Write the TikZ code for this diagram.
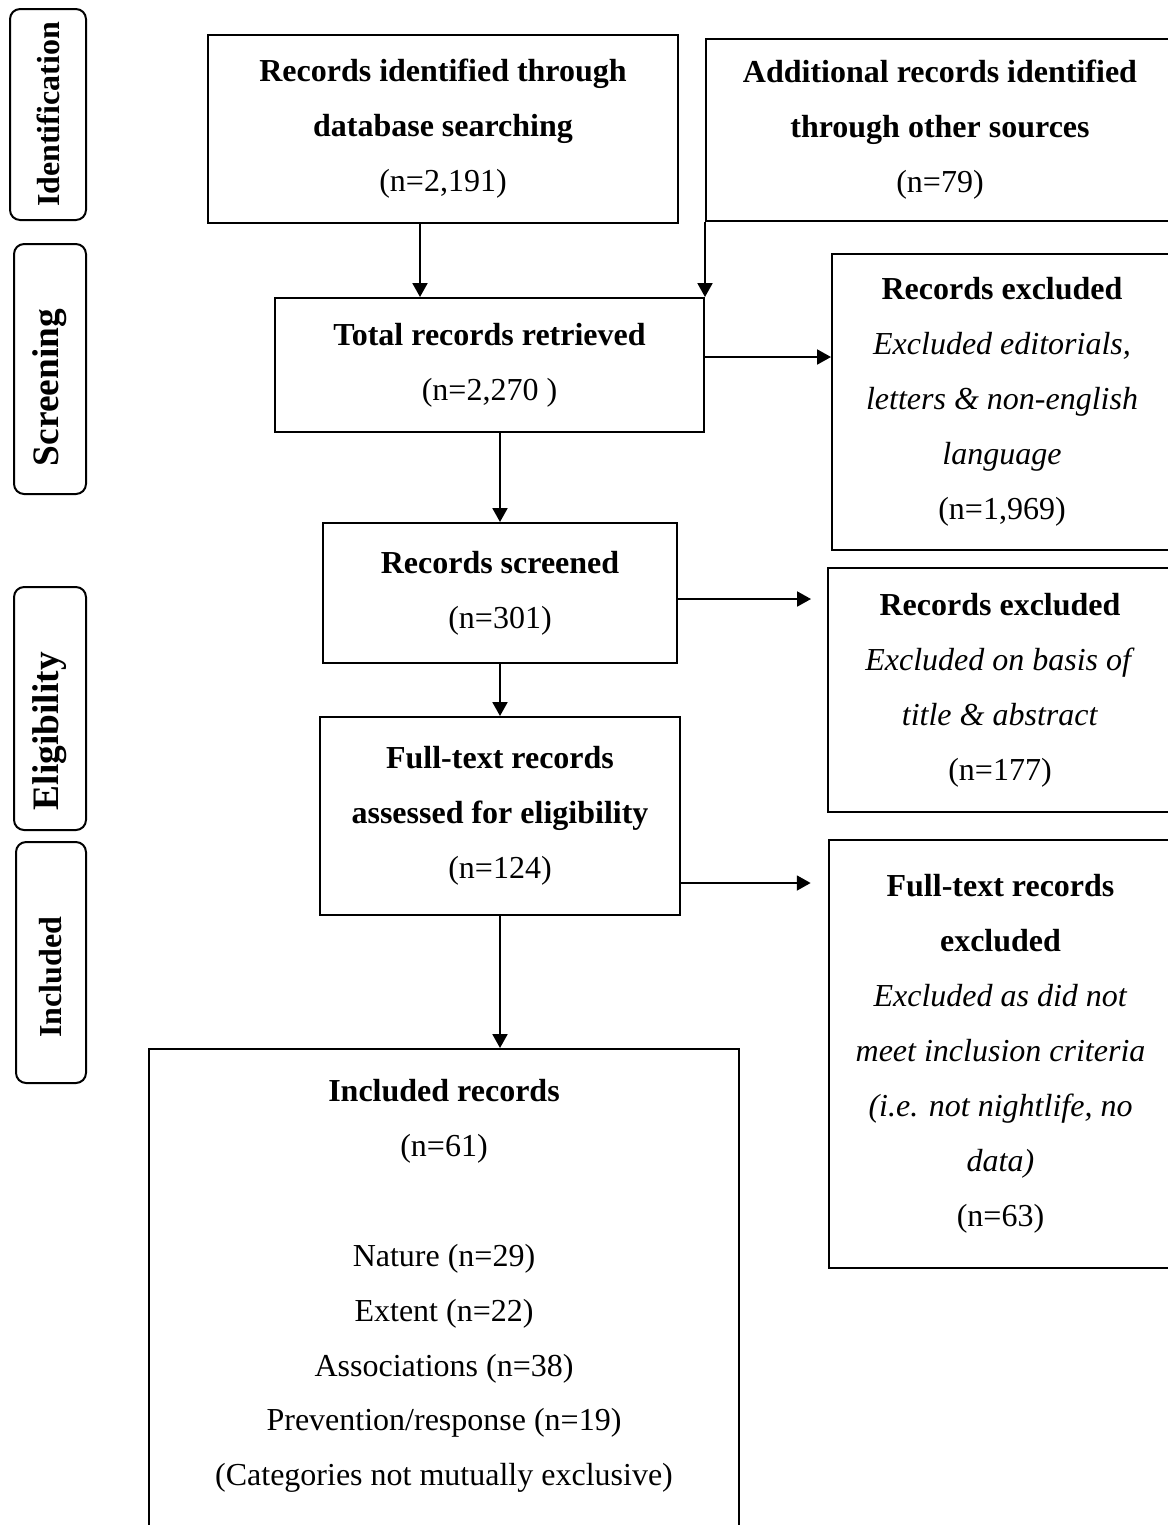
\documentclass[tikz,border=0pt]{standalone}
\usepackage{fontspec}
\setmainfont{Liberation Serif}
\usetikzlibrary{arrows.meta,positioning,calc}
\tikzset{
  >={Triangle[length=5.2pt,width=5.6pt]},
  % kader
  sz/.style 2 args={minimum width=#1*0.375pt,minimum height=#2*0.375pt},
  pbox/.style={draw=black,line width=0.75pt,inner sep=0pt,align=center,
    font=\fontsize{12pt}{20.6pt}\selectfont},
  phase/.style={draw=black,line width=0.75pt,rounded corners=3.8pt,rotate=90,
    inner sep=0pt,font=\bfseries\fontsize{12pt}{14pt}\selectfont},
  bigphase/.style={phase,font=\bfseries\fontsize{14pt}{16pt}\selectfont},
  % pijlen
  arr/.style={->,draw=black,line width=0.75pt},
}
\begin{document}
\begin{tikzpicture}[x=0.375pt,y=-0.375pt]
\useasboundingbox (0,0) rectangle (1168,1525);
  % fasen
  \node[phase,sz={211}{76}] (pid) at (48,114.5) {Identification};
  \node[bigphase,sz={250}{72}] (psc) at (50,369) {Screening\hspace*{14pt}};
  \node[bigphase,sz={243}{72}] (pel) at (50,708.5) {Eligibility\hspace*{17pt}};
  \node[phase,sz={241}{70}] (pin) at (51,962.5) {Included\hspace*{11pt}};
  % kolom
  \node[pbox,sz={470}{188}] (db) at (443,129)
    {\textbf{Records identified through}\\ \textbf{database searching}\\ (n=2,191)};
  \node[pbox,sz={468}{182}] (add) at (940,130)
    {\textbf{Additional records identified}\\ \textbf{through other sources}\\ (n=79)};
  \node[pbox,sz={429}{134}] (tot) at (489.5,365)
    {\textbf{Total records retrieved}\\ (n=2,270 )};
  \node[pbox,sz={340}{296}] (exa) at (1002,402)
    {\textbf{Records excluded}\\ \textit{Excluded editorials,}\\ \textit{letters \& non-english}\\ \textit{language}\\ (n=1,969)};
  \node[pbox,sz={354}{140}] (rsc) at (500,593)
    {\textbf{Records screened}\\ (n=301)};
  \node[pbox,sz={344}{244}] (exb) at (1000,690)
    {\textbf{Records excluded}\\ \textit{Excluded on basis of}\\ \textit{title \& abstract}\\ (n=177)};
  \node[pbox,sz={360}{198}] (full) at (500,816)
    {\textbf{Full-text records}\\ \textbf{assessed for eligibility}\\ (n=124)};
  \node[pbox,sz={343}{428}] (exc) at (1000.5,1054)
    {\textbf{Full-text records}\\ \textbf{excluded}\\ \textit{Excluded as did not}\\ \textit{meet inclusion criteria}\\ \textit{(i.e. not nightlife, no}\\ \textit{data)}\\ (n=63)};
  \node[pbox,sz={590}{522}] (inc) at (444,1310)
    {\textbf{Included records}\\ (n=61)\\ \mbox{}\\ Nature (n=29)\\ Extent (n=22)\\ Associations (n=38)\\ Prevention/response (n=19)\\ (Categories not mutually exclusive)\\ \mbox{}};
  % pijlen
  \coordinate (dbx) at ($(db.south)+(-23,0)$);
  \draw[arr] (dbx) -- (dbx |- tot.north);
  \draw[arr] (add.south west) -- (add.south west |- tot.north);
  \coordinate (totx) at ($(tot.east)+(0,-8)$);
  \draw[arr] (totx) -- (totx -| exa.west);
  \draw[arr] (tot.south -| rsc.north) -- (rsc.north);
  \coordinate (rscx) at ($(rsc.east)+(0,6)$);
  \draw[arr,shorten >=6pt] (rscx) -- (rscx -| exb.west);
  \draw[arr] (rsc.south) -- (full.north);
  \coordinate (fullx) at ($(full.east)+(0,67)$);
  \draw[arr,shorten >=6.5pt] (fullx) -- (fullx -| exc.west);
  \draw[arr] (full.south) -- (full.south |- inc.north);
\end{tikzpicture}
\end{document}
